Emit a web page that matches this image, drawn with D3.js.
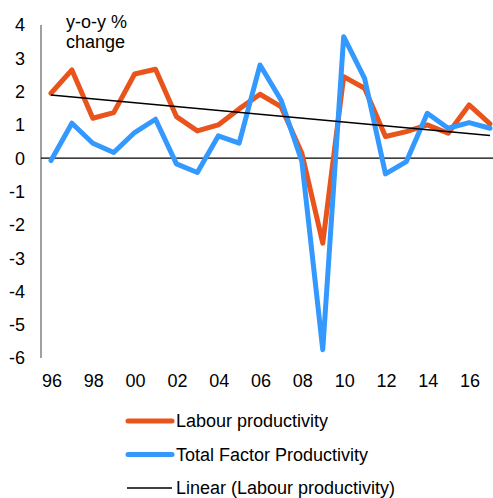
<!DOCTYPE html>
<html>
<head>
<meta charset="utf-8">
<script src="https://cdn.jsdelivr.net/npm/d3@7"></script>
<style>
  body { margin: 0; background: #fff; }
  svg text { font-family: "Liberation Sans", Arial, sans-serif; fill: #000; }
</style>
</head>
<body>
<div id="chart"></div>
<script>
const width = 493;
const height = 498;

// data
const years = d3.range(1996, 2018);
const labourProd = [1.95, 2.65, 1.2, 1.37, 2.53, 2.67, 1.25, 0.82, 1.0, 1.48, 1.92, 1.55, 0.15, -2.55, 2.45, 2.1, 0.65, 0.8, 1.0, 0.75, 1.6, 1.03];
const tfp = [-0.07, 1.05, 0.45, 0.17, 0.77, 1.17, -0.17, -0.43, 0.67, 0.45, 2.8, 1.75, -0.1, -5.75, 3.65, 2.4, -0.47, -0.1, 1.35, 0.9, 1.07, 0.9];
const trendYears = [1996, 2017];
const trendValues = [1.9, 0.68];
const yTicks = [4, 3, 2, 1, 0, -1, -2, -3, -4, -5, -6];
const xTickYears = d3.range(1996, 2017, 2);
const legendLabels = ["Labour productivity", "Total Factor Productivity", "Linear (Labour productivity)"];

const orange = "#e8541c";
const blue = "#3399ff";
const fontSize = "18px";

const svg = d3.select("#chart")
    .append("svg")
    .attr("width", width)
    .attr("height", height);

const x = d3.scaleLinear()
    .domain([1996, 2017])
    .range([51, 490]);

const y = d3.scaleLinear()
    .domain([-6, 4])
    .range([358, 25]);

const axisX = 41;

// y axis line
svg.append("line")
    .attr("x1", axisX).attr("x2", axisX)
    .attr("y1", y(4)).attr("y2", y(-6))
    .attr("stroke", "#808080")
    .attr("stroke-width", 1.5);

// y tick labels
svg.selectAll(".ytick")
    .data(yTicks)
    .enter()
    .append("text")
    .attr("class", "ytick")
    .attr("x", 25)
    .attr("y", d => y(d))
    .attr("dy", "0.36em")
    .attr("text-anchor", "end")
    .style("font-size", fontSize)
    .text(d => d);

// x tick labels
svg.selectAll(".xtick")
    .data(xTickYears)
    .enter()
    .append("text")
    .attr("class", "xtick")
    .attr("x", d => x(d) + 1)
    .attr("y", 387)
    .attr("text-anchor", "middle")
    .style("font-size", fontSize)
    .text(d => String(d % 100).padStart(2, "0"));

// unit label
const unit = svg.append("text")
    .attr("x", 66)
    .attr("y", 28)
    .style("font-size", fontSize);
unit.append("tspan").attr("x", 66).text("y-o-y %");
unit.append("tspan").attr("x", 66).attr("dy", 19.5).text("change");

// zero line
svg.append("line")
    .attr("x1", axisX).attr("x2", width)
    .attr("y1", y(0)).attr("y2", y(0))
    .attr("stroke", "#000")
    .attr("stroke-width", 1.2);

const line = d3.line()
    .x((d, i) => x(years[i]))
    .y(d => y(d));

svg.append("path")
    .datum(labourProd)
    .attr("d", line)
    .attr("fill", "none")
    .attr("stroke", orange)
    .attr("stroke-width", 5)
    .attr("stroke-linejoin", "round")
    .attr("stroke-linecap", "round");

svg.append("path")
    .datum(tfp)
    .attr("d", line)
    .attr("fill", "none")
    .attr("stroke", blue)
    .attr("stroke-width", 5)
    .attr("stroke-linejoin", "round")
    .attr("stroke-linecap", "round");

// trend line
svg.append("line")
    .attr("x1", x(trendYears[0])).attr("y1", y(trendValues[0]))
    .attr("x2", x(trendYears[1])).attr("y2", y(trendValues[1]))
    .attr("stroke", "#000")
    .attr("stroke-width", 1.5);

// legend
const legendStyles = [
    { color: orange, w: 5 },
    { color: blue, w: 5 },
    { color: "#000", w: 1.5 }
];
const legendY = [421, 454.5, 488];

const legend = svg.selectAll(".legend")
    .data(legendLabels)
    .enter()
    .append("g")
    .attr("class", "legend")
    .attr("transform", (d, i) => `translate(0, ${legendY[i]})`);

legend.append("line")
    .attr("x1", (d, i) => i < 2 ? 128 : 127)
    .attr("x2", 172)
    .attr("y1", 0).attr("y2", 0)
    .attr("stroke", (d, i) => legendStyles[i].color)
    .attr("stroke-width", (d, i) => legendStyles[i].w)
    .attr("stroke-linecap", (d, i) => i < 2 ? "round" : "butt");

legend.append("text")
    .attr("x", 176)
    .attr("y", 0)
    .attr("dy", "0.36em")
    .style("font-size", fontSize)
    .text(d => d);
</script>
</body>
</html>
